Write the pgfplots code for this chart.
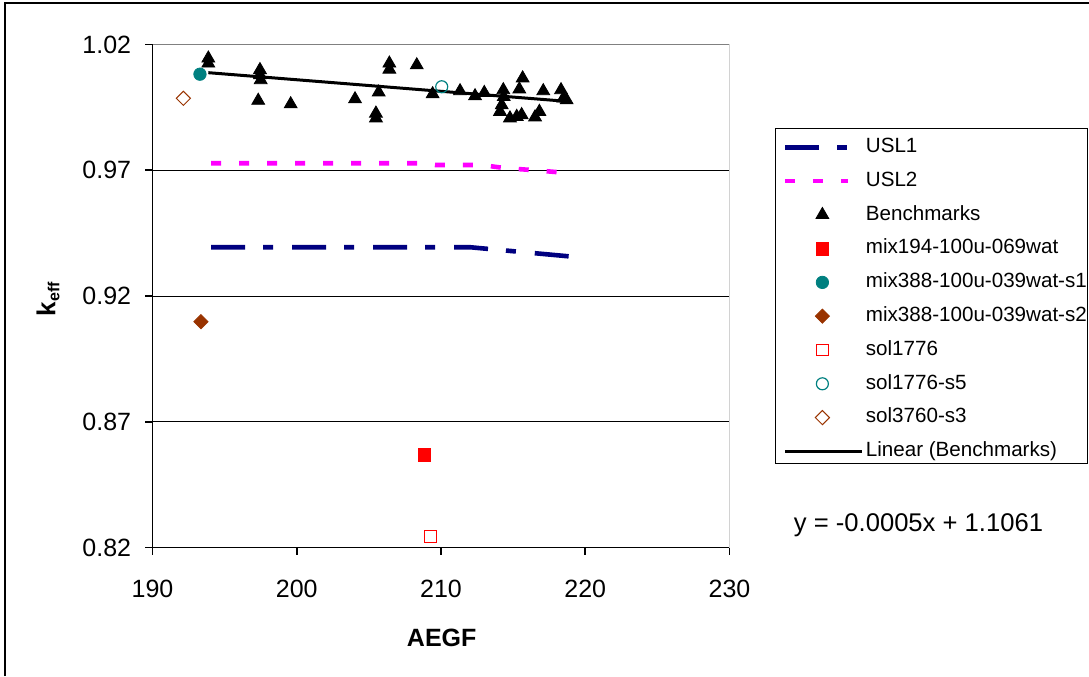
\documentclass[border=0pt]{standalone}
\usepackage{pgfplots}
\usepackage{pgfplotstable}
\pgfplotsset{compat=1.18}
\usepackage{fontspec}
\setmainfont{Liberation Sans}

\definecolor{uslnavy}{RGB}{0,0,128}
\definecolor{uslmag}{RGB}{255,0,255}
\definecolor{tealc}{RGB}{0,128,128}
\definecolor{brownc}{RGB}{153,51,0}

\pgfplotsset{
  trendlegend/.style={legend image code/.code={\draw[##1] (0pt,0pt) -- (38.5pt,0pt);}},
}

% benchmark cases (AEGF, keff)
\pgfplotstableread{
x y
193.87 1.0145
193.87 1.0125
197.45 1.0099
197.45 1.0079
197.50 1.0059
197.33 0.9977
199.58 0.9963
204.04 0.9983
205.68 1.0010
205.49 0.9926
205.49 0.9907
206.42 1.0125
206.42 1.0101
208.32 1.0118
209.42 1.0003
211.32 1.0015
212.36 0.9995
213.00 1.0008
214.32 1.0019
214.35 0.9992
214.21 0.9959
214.09 0.9933
215.66 1.0066
215.43 1.0022
214.78 0.9907
215.25 0.9913
215.59 0.9920
216.52 0.9911
216.82 0.9933
217.09 1.0015
218.32 1.0019
218.48 0.9986
218.71 0.9979
}\benchtable

\begin{document}
\begin{tikzpicture}
\path[use as bounding box] (0pt,0pt) rectangle (544.5pt,-338pt);
\draw[line width=0.8pt] (2.5pt,-338pt) -- (2.5pt,-1.35pt) -- (544.5pt,-1.35pt);
\draw[line width=0.5pt] (387.5pt,-64pt) rectangle (543.75pt,-231.65pt);

\begin{axis}[
  at={(76.25pt,-273.75pt)}, anchor=south west,
  scale only axis, width=288.5pt, height=251.5pt,
  xmin=190, xmax=230, ymin=0.82, ymax=1.02,
  xtick={190,200,210,220,230},
  ytick={0.82,0.87,0.92,0.97,1.02},
  axis x line*=bottom, axis y line*=left,
  axis line style={black, line width=0.8pt},
  tick style={black, line width=0.8pt},
  major tick length=3.7pt, tick align=outside,
  ymajorgrids, major grid style={black, line width=0.5pt},
  /pgf/number format/assume math mode=true,
  tick label style={font=\fontsize{12.5}{14}\selectfont},
  yticklabel={\pgfmathprintnumber[fixed,fixed zerofill,precision=2]{\tick}},
  xticklabel={\pgfmathprintnumber[fixed,precision=0]{\tick}},
  xticklabel style={anchor=north, inner sep=0pt, yshift=-12.3pt},
  yticklabel style={anchor=east, inner sep=0pt, xshift=-6.8pt},
  legend style={at={(1.0922,0.8199)}, anchor=north west, draw=none, fill=none,
    inner sep=0pt, row sep=5.2pt, column sep=0pt,
    font=\fontsize{10.3}{12}\selectfont,
    nodes={inner sep=1pt, text height=7.5pt, text depth=2.2pt}},
  legend cell align=left,
  legend image code/.code={\draw[mark repeat=2,mark phase=2,#1] plot coordinates {(0pt,0pt) (18.5pt,0pt) (31.5pt,0pt)};},
]
\addplot[uslnavy, line width=2.3pt, dash pattern=on 17pt off 9pt on 5pt off 9.5pt]
  coordinates {(194.06,0.9394) (212.0,0.9394) (219.0,0.9357)};
\addlegendentry{USL1}
\addplot[uslmag, line width=2.3pt, dash pattern=on 5pt off 9pt]
  coordinates {(194.06,0.9728) (208.7,0.9728) (209.6,0.9721) (212.8,0.9721) (214.5,0.9708) (216.3,0.9701) (219.0,0.9688)};
\addlegendentry{USL2}
\addplot[only marks, mark=triangle*, mark size=3.7pt, black] table {\benchtable};
\addlegendentry{Benchmarks}
\addplot[only marks, mark=square*, mark size=3.15pt, red] coordinates {(208.84,0.8568)};
\addlegendentry{mix194-100u-069wat}
\addplot[only marks, mark=*, mark size=3.1pt, tealc] coordinates {(193.29,1.0082)};
\addlegendentry{mix388-100u-039wat-s1}
\addplot[only marks, mark=square*, mark size=2.5pt, mark options={rotate=45}, brownc] coordinates {(193.36,0.9098)};
\addlegendentry{mix388-100u-039wat-s2}
\addplot[only marks, mark=square, mark size=2.9pt, red, line width=0.5pt] coordinates {(209.29,0.8243)};
\addlegendentry{sol1776}
\addplot[only marks, mark=o, mark size=3pt, tealc, line width=0.6pt] coordinates {(210.05,1.0032)};
\addlegendentry{sol1776-s5}
\addplot[only marks, mark=square, mark size=2.5pt, mark options={rotate=45}, brownc, line width=0.5pt] coordinates {(192.14,0.9986)};
\addlegendentry{sol3760-s3}
\addplot[black, line width=1.5pt, trendlegend]
  coordinates {(193.87,1.0088) (218.71,0.9974)};
\addlegendentry{Linear (Benchmarks)}
\draw[gray, line width=0.6pt] (rel axis cs:0,1) -- (rel axis cs:1,1) -- (rel axis cs:1,0);
\end{axis}

\node[font=\fontsize{12.8}{14}\selectfont] at (459.25pt,-262.5pt) {y = -0.0005x + 1.1061};
\node[font=\fontsize{12.5}{14}\selectfont\bfseries] at (220.85pt,-319pt) {AEGF};
\node[rotate=90] at (24pt,-149.5pt) {\fontsize{13}{15}\selectfont\bfseries k\raisebox{-2pt}{\fontsize{8}{9}\selectfont eff}};
\end{tikzpicture}
\end{document}
